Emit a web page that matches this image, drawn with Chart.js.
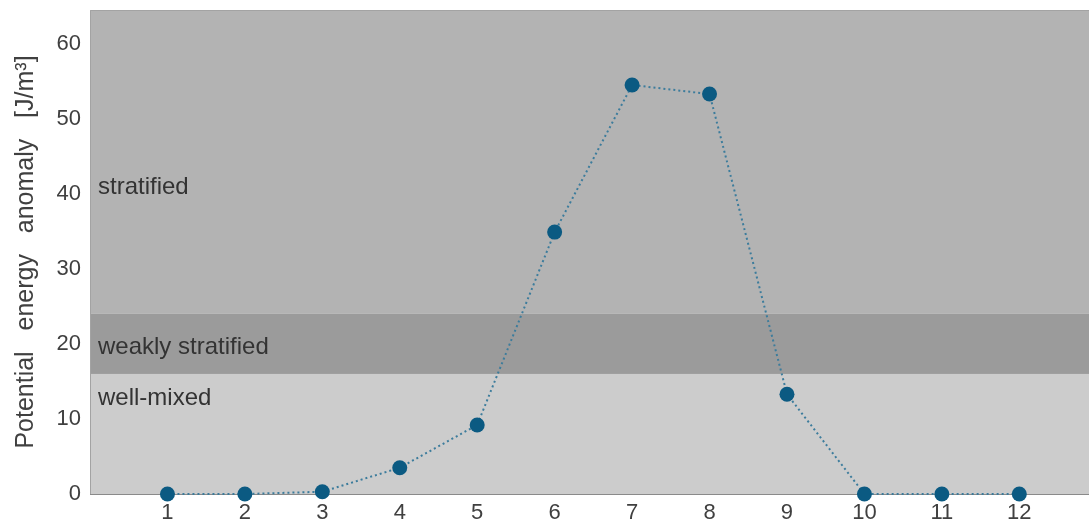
<!DOCTYPE html>
<html>
<head>
<meta charset="utf-8">
<script src="https://cdn.jsdelivr.net/npm/chart.js@4"></script>
<style>
  html, body { margin: 0; padding: 0; background: #fff; }
  #wrap { width: 1089px; height: 529px; }
</style>
</head>
<body>
<div id="wrap"><canvas id="peaChart"></canvas></div>
<script>
// monthly potential energy anomaly
const months = [1, 2, 3, 4, 5, 6, 7, 8, 9, 10, 11, 12];
const anomaly = [0, 0, 0.3, 3.5, 9.2, 34.9, 54.5, 53.3, 13.3, 0, 0, 0];
const yTicks = [0, 10, 20, 30, 40, 50, 60];

// stratification regimes (lower, upper limits in J/m3)
const bandNames = ['well-mixed', 'weakly stratified', 'stratified'];
const bandLimits = [[0, 16], [16, 24], [24, 64.5]];
const bandColors = ['#cccccc', '#9b9b9b', '#b3b3b3'];
const bandLabelAt = [12.8, 19.5, 40.8];

const fontFamily = '"Liberation Sans", Arial, sans-serif';

// shaded regime bands behind the series
const bandsPlugin = {
    id: 'bands',
    beforeDatasetsDraw(chart) {
        const { ctx, chartArea, scales } = chart;
        const y = scales.y;
        ctx.save();
        bandLimits.forEach((lim, i) => {
            const top = y.getPixelForValue(lim[1]);
            const bottom = y.getPixelForValue(lim[0]);
            ctx.fillStyle = bandColors[i];
            ctx.fillRect(chartArea.left, top, chartArea.right - chartArea.left, bottom - top);
        });
        ctx.fillStyle = '#333333';
        ctx.font = '24px ' + fontFamily;
        ctx.textBaseline = 'middle';
        ctx.textAlign = 'left';
        bandNames.forEach((name, i) => {
            ctx.fillText(name, chartArea.left + 8, y.getPixelForValue(bandLabelAt[i]));
        });
        // frame on left and top
        ctx.strokeStyle = '#a3a3a3';
        ctx.lineWidth = 1;
        ctx.beginPath();
        ctx.moveTo(chartArea.left + 0.5, chartArea.bottom);
        ctx.lineTo(chartArea.left + 0.5, chartArea.top + 0.5);
        ctx.lineTo(chartArea.right, chartArea.top + 0.5);
        ctx.stroke();
        ctx.restore();
    }
};

const ctx = document.getElementById('peaChart').getContext('2d');

new Chart(ctx, {
    type: 'line',
    data: {
        datasets: [{
            data: months.map((m, i) => ({ x: m, y: anomaly[i] })),
            borderColor: '#3c7c9c',
            borderWidth: 2,
            borderDash: [2, 3],
            pointRadius: 7.5,
            pointBackgroundColor: '#0b5a82',
            pointBorderColor: '#0b5a82',
            pointBorderWidth: 0,
            tension: 0,
            clip: false
        }]
    },
    options: {
        responsive: true,
        maintainAspectRatio: false,
        animation: false,
        layout: { autoPadding: false, padding: { top: 10, right: 0, bottom: 0, left: 0 } },
        plugins: {
            legend: { display: false },
            tooltip: { enabled: false }
        },
        scales: {
            x: {
                type: 'linear',
                min: 0,
                max: 12.9,
                afterBuildTicks: axis => { axis.ticks = months.map(v => ({ value: v })); },
                grid: { display: false, drawTicks: false },
                border: { display: true, color: '#8a8a8a', width: 1 },
                ticks: {
                    color: '#404040',
                    padding: 6,
                    maxRotation: 0,
                    font: { family: fontFamily, size: 22 }
                },
                afterFit: axis => {
                    axis.height = 35;
                    axis.paddingLeft = 0;
                    axis.paddingRight = 0;
                }
            },
            y: {
                min: 0,
                max: 64.5,
                afterBuildTicks: axis => { axis.ticks = yTicks.map(v => ({ value: v })); },
                grid: { display: false, drawTicks: false },
                border: { display: false },
                ticks: {
                    color: '#404040',
                    padding: 9,
                    font: { family: fontFamily, size: 22 }
                },
                title: {
                    display: true,
                    text: 'Potential   energy   anomaly   [J/m³]',
                    color: '#404040',
                    padding: { top: 11, bottom: 0 },
                    font: { family: fontFamily, size: 25 }
                },
                afterFit: axis => {
                    axis.width = 90;
                    axis.paddingTop = 0;
                    axis.paddingBottom = 0;
                }
            }
        }
    },
    plugins: [bandsPlugin]
});
</script>
</body>
</html>
